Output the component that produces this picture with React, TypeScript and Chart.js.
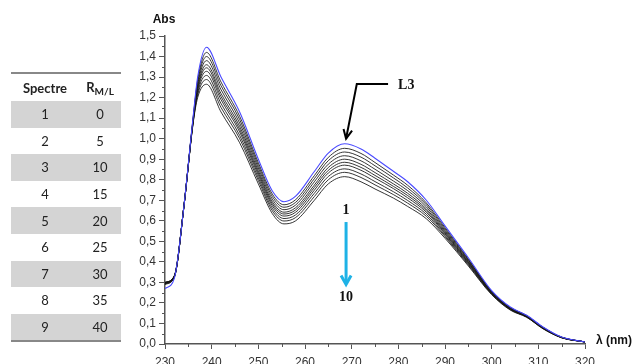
import React, { useEffect, useRef } from 'react';
import { Chart, registerables } from 'chart.js';

Chart.register(...registerables);

// Wavelengths (nm)
const wavelengths = [230, 232, 234, 236, 237, 238.9, 242, 246, 250, 253, 255.5, 258, 262, 265, 268.5, 272, 275, 279, 282, 286, 290, 295, 300, 304, 307.5, 311, 315, 320];

// L3 spectrum (blue)
const spectrumL3 = [0.27, 0.32, 0.66, 1.10, 1.30, 1.445, 1.30, 1.13, 0.90, 0.745, 0.693, 0.72, 0.84, 0.93, 0.975, 0.95, 0.905, 0.84, 0.79, 0.70, 0.575, 0.42, 0.26, 0.18, 0.14, 0.083, 0.034, 0.01];

// Titration spectra (black)
const spectrum1 = [0.29, 0.325, 0.66, 1.096, 1.286, 1.42, 1.276, 1.109, 0.883, 0.73, 0.678, 0.703, 0.82, 0.909, 0.953, 0.928, 0.884, 0.822, 0.773, 0.687, 0.567, 0.414, 0.257, 0.178, 0.139, 0.082, 0.033, 0.01];
const spectrum2 = [0.292, 0.326, 0.66, 1.092, 1.275, 1.40, 1.258, 1.093, 0.87, 0.718, 0.666, 0.69, 0.805, 0.893, 0.935, 0.91, 0.868, 0.808, 0.76, 0.678, 0.56, 0.41, 0.255, 0.176, 0.138, 0.081, 0.033, 0.01];
const spectrum3 = [0.294, 0.327, 0.66, 1.089, 1.264, 1.38, 1.239, 1.076, 0.857, 0.705, 0.654, 0.677, 0.79, 0.876, 0.917, 0.892, 0.851, 0.793, 0.747, 0.668, 0.553, 0.406, 0.253, 0.175, 0.136, 0.08, 0.033, 0.01];
const spectrum4 = [0.296, 0.328, 0.66, 1.086, 1.253, 1.36, 1.22, 1.06, 0.844, 0.693, 0.642, 0.664, 0.774, 0.86, 0.90, 0.875, 0.835, 0.779, 0.734, 0.658, 0.547, 0.401, 0.251, 0.173, 0.135, 0.079, 0.032, 0.01];
const spectrum5 = [0.297, 0.329, 0.66, 1.083, 1.244, 1.345, 1.205, 1.046, 0.833, 0.683, 0.633, 0.653, 0.762, 0.846, 0.885, 0.86, 0.821, 0.767, 0.723, 0.65, 0.541, 0.398, 0.249, 0.172, 0.134, 0.077, 0.032, 0.01];
const spectrum6 = [0.298, 0.33, 0.66, 1.08, 1.235, 1.328, 1.19, 1.033, 0.822, 0.673, 0.623, 0.642, 0.749, 0.833, 0.871, 0.846, 0.808, 0.756, 0.712, 0.642, 0.536, 0.394, 0.247, 0.17, 0.134, 0.078, 0.031, 0.01];
const spectrum7 = [0.299, 0.331, 0.66, 1.077, 1.224, 1.308, 1.171, 1.016, 0.809, 0.661, 0.611, 0.629, 0.734, 0.816, 0.853, 0.828, 0.791, 0.741, 0.699, 0.632, 0.529, 0.39, 0.245, 0.169, 0.132, 0.077, 0.031, 0.01];
const spectrum8 = [0.30, 0.332, 0.66, 1.074, 1.213, 1.288, 1.152, 1.0, 0.796, 0.649, 0.599, 0.616, 0.718, 0.80, 0.836, 0.811, 0.775, 0.727, 0.686, 0.622, 0.523, 0.385, 0.243, 0.167, 0.131, 0.074, 0.031, 0.01];
const spectrum9 = [0.30, 0.333, 0.66, 1.07, 1.20, 1.265, 1.13, 0.98, 0.78, 0.635, 0.585, 0.60, 0.70, 0.78, 0.815, 0.79, 0.755, 0.71, 0.67, 0.61, 0.515, 0.38, 0.24, 0.165, 0.13, 0.075, 0.03, 0.01];

const blackSpectra = [spectrum1, spectrum2, spectrum3, spectrum4, spectrum5, spectrum6, spectrum7, spectrum8, spectrum9];

// Table
const tableSpectre = ['1', '2', '3', '4', '5', '6', '7', '8', '9'];
const tableRatio = ['0', '5', '10', '15', '20', '25', '30', '35', '40'];

const AXIS = '#555';

const decorPlugin = {
  id: 'decor',
  afterDraw(chart: any) {
    const { ctx, chartArea, scales } = chart;
    const x = scales.x;
    const y = scales.y;
    ctx.save();
    // minor ticks
    ctx.strokeStyle = AXIS;
    ctx.lineWidth = 1;
    ctx.beginPath();
    for (let v = 0.05; v < 1.5; v += 0.1) {
      const py = Math.round(y.getPixelForValue(v)) + 0.5;
      ctx.moveTo(chartArea.left - 3, py);
      ctx.lineTo(chartArea.left, py);
    }
    for (let v = 235; v < 320; v += 10) {
      const px = Math.round(x.getPixelForValue(v)) + 0.5;
      ctx.moveTo(px, chartArea.bottom);
      ctx.lineTo(px, chartArea.bottom + 3);
    }
    ctx.stroke();

    // axis titles
    ctx.fillStyle = '#111';
    ctx.font = 'bold 12px "Liberation Sans", Arial, sans-serif';
    ctx.textBaseline = 'middle';
    ctx.textAlign = 'center';
    ctx.fillText('Abs', chartArea.left - 1, chartArea.top - 16);
    ctx.textAlign = 'left';
    ctx.fillText('λ (nm)', chartArea.right + 11, chartArea.bottom - 3);

    // L3 annotation
    const bx1 = x.getPixelForValue(277.8), by = y.getPixelForValue(1.266);
    const bx2 = x.getPixelForValue(271.1);
    const tx = x.getPixelForValue(268.8), ty = y.getPixelForValue(1.0);
    ctx.strokeStyle = '#000';
    ctx.lineWidth = 2;
    ctx.beginPath();
    ctx.moveTo(bx1, by);
    ctx.lineTo(bx2, by);
    ctx.lineTo(tx, ty);
    ctx.stroke();
    const ang = Math.atan2(ty - by, tx - bx2);
    const hl = 10;
    ctx.beginPath();
    ctx.moveTo(tx - hl * Math.cos(ang - 0.45), ty - hl * Math.sin(ang - 0.45));
    ctx.lineTo(tx, ty);
    ctx.lineTo(tx - hl * Math.cos(ang + 0.45), ty - hl * Math.sin(ang + 0.45));
    ctx.stroke();
    ctx.fillStyle = '#111';
    ctx.font = 'bold 14px "Liberation Serif", "Times New Roman", serif';
    ctx.textAlign = 'left';
    ctx.fillText('L3', bx1 + 10, by + 1);

    // 1 -> 10 arrow
    const ax = x.getPixelForValue(268.8);
    const ay1 = y.getPixelForValue(0.594), ay2 = y.getPixelForValue(0.29);
    ctx.textAlign = 'center';
    ctx.fillText('1', ax, y.getPixelForValue(0.653));
    ctx.fillText('10', ax, y.getPixelForValue(0.229));
    ctx.strokeStyle = '#1eb2e6';
    ctx.lineWidth = 3;
    ctx.beginPath();
    ctx.moveTo(ax, ay1);
    ctx.lineTo(ax, ay2 - 1);
    ctx.stroke();
    ctx.beginPath();
    ctx.moveTo(ax - 5, ay2 - 9);
    ctx.lineTo(ax, ay2);
    ctx.lineTo(ax + 5, ay2 - 9);
    ctx.stroke();
    ctx.restore();
  },
};

function toPoints(arr: number[]) {
  return wavelengths.map((w, i) => ({ x: w, y: arr[i] }));
}

export default function App() {
  const ref = useRef<HTMLCanvasElement | null>(null);

  useEffect(() => {
    if (!ref.current) return;
    const datasets: any[] = [
      {
        label: 'L3',
        data: toPoints(spectrumL3),
        borderColor: '#4a4aff',
        borderWidth: 1.1,
        pointRadius: 0,
        cubicInterpolationMode: 'monotone',
        fill: false,
      },
      ...blackSpectra.map((s, i) => ({
        label: 'Spectre ' + (i + 1),
        data: toPoints(s),
        borderColor: 'rgba(20,20,20,0.85)',
        borderWidth: 1,
        pointRadius: 0,
        cubicInterpolationMode: 'monotone',
        fill: false,
      })),
    ];
    const chart = new Chart(ref.current, {
      type: 'line',
      data: { datasets },
      options: {
        responsive: false,
        animation: false,
        devicePixelRatio: 1,
        layout: { padding: { left: 120, right: 49, top: 36, bottom: 0 } },
        plugins: { legend: { display: false }, tooltip: { enabled: false } },
        scales: {
          x: {
            type: 'linear',
            min: 230,
            max: 320,
            ticks: {
              stepSize: 10,
              padding: 6,
              color: '#333',
              maxRotation: 0,
              autoSkip: false,
              font: { family: '"Liberation Sans", Arial, sans-serif', size: 12 },
            },
            grid: { drawOnChartArea: false, drawTicks: true, tickLength: 5, color: AXIS },
            border: { display: true, color: AXIS, width: 1.5 },
            afterFit: (s: any) => { s.height = 20; },
          },
          y: {
            type: 'linear',
            min: 0,
            max: 1.5,
            ticks: {
              stepSize: 0.1,
              padding: 3,
              color: '#333',
              font: { family: '"Liberation Sans", Arial, sans-serif', size: 12 },
              callback: (v: any) => Number(v).toFixed(1).replace('.', ','),
            },
            grid: { drawOnChartArea: false, drawTicks: true, tickLength: 6, color: AXIS },
            border: { display: true, color: AXIS, width: 1.5 },
            afterFit: (s: any) => { s.width = 45; },
          },
        },
      },
      plugins: [decorPlugin],
    });
    return () => chart.destroy();
  }, []);

  const rowH = 26.6;
  return (
    <div style={{ position: 'absolute', left: 0, top: 0, width: 634, height: 364, background: '#fff', overflow: 'hidden' }}>
      <canvas ref={ref} width={634} height={364} style={{ position: 'absolute', left: 0, top: 0, width: 634, height: 364 }} />
      <div style={{ position: 'absolute', left: 11, top: 72, width: 110, fontFamily: 'Lato, "Open Sans", sans-serif', fontSize: 13, color: '#222' }}>
        <div style={{ borderTop: '2px solid #888', height: 27, display: 'flex', alignItems: 'center', fontWeight: 700 }}>
          <div style={{ width: 68, textAlign: 'center' }}>Spectre</div>
          <div style={{ width: 42, textAlign: 'center' }}>
            R<sub style={{ fontSize: 10, verticalAlign: -3 }}>M/L</sub>
          </div>
        </div>
        {tableSpectre.map((s, i) => (
          <div key={s} style={{ height: rowH, display: 'flex', alignItems: 'center', background: i % 2 === 0 ? '#d4d4d4' : '#fff' }}>
            <div style={{ width: 68, textAlign: 'center' }}>{s}</div>
            <div style={{ width: 42, textAlign: 'center' }}>{tableRatio[i]}</div>
          </div>
        ))}
        <div style={{ borderTop: '2px solid #888' }} />
      </div>
    </div>
  );
}
